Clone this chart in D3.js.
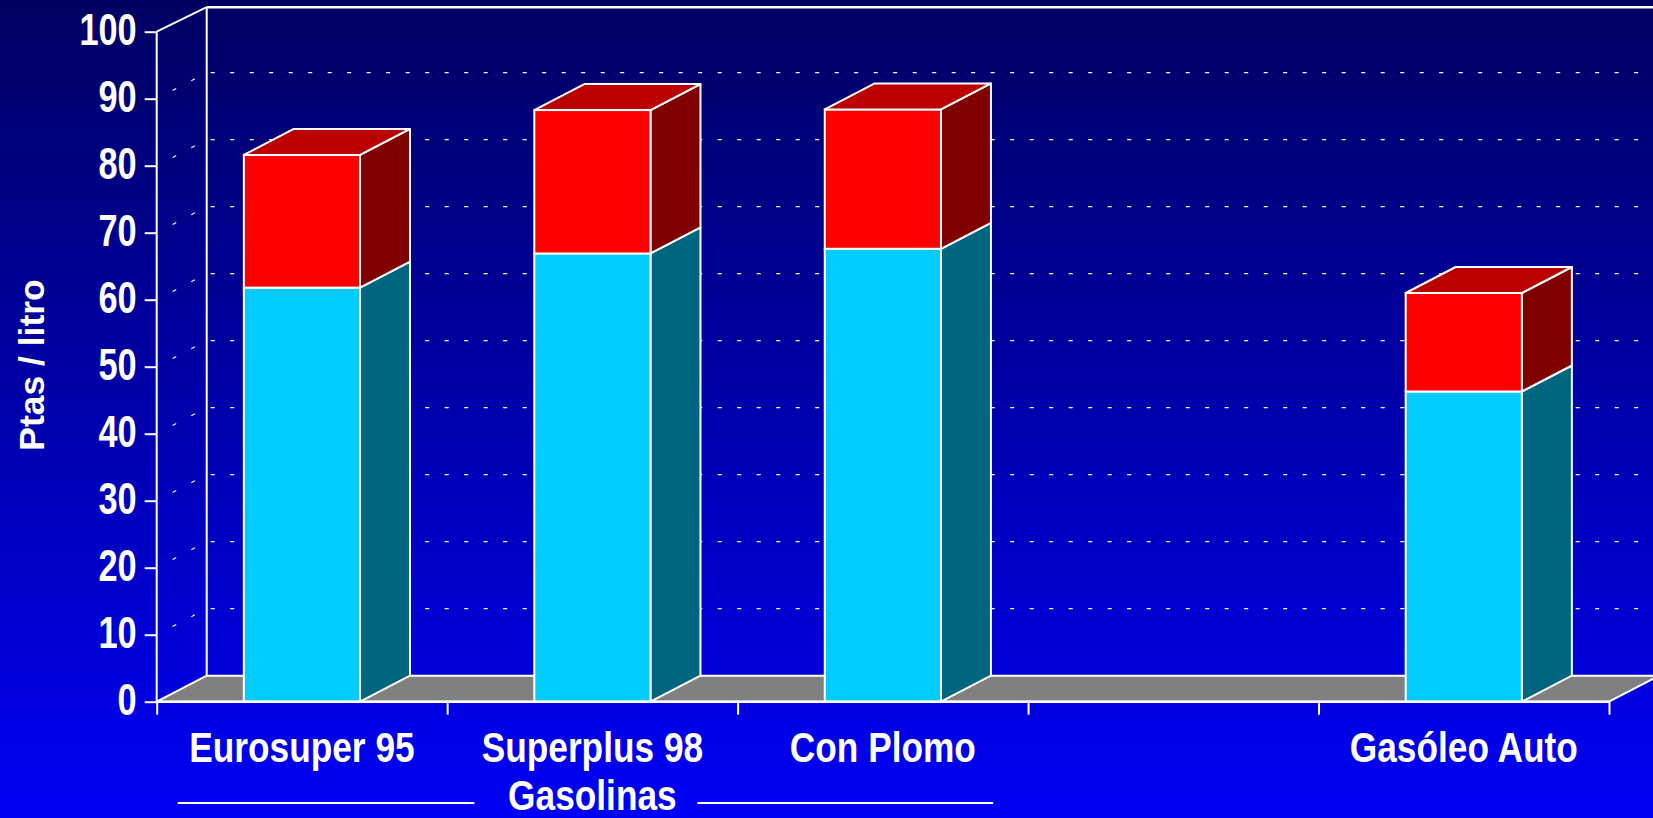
<!DOCTYPE html>
<html>
<head>
<meta charset="utf-8">
<script src="https://cdn.jsdelivr.net/npm/d3@7"></script>
<style>
  html, body { margin: 0; padding: 0; background: #0000cc; }
  svg { display: block; }
  text { font-family: "Liberation Sans", Arial, sans-serif; font-weight: bold; fill: #fff; }
</style>
</head>
<body>
<svg id="chart" width="1653" height="818"></svg>
<script>
// ---- data ----
const categories = ["Eurosuper 95", "Superplus 98", "Con Plomo", "", "Gasóleo Auto"];
const baseValues = [61.8, 66.9, 67.6, null, 46.3];   // lower (cyan) segment
const taxValues  = [19.8, 21.4, 20.8, null, 14.7];   // upper (red) segment
const yTickValues = [0, 10, 20, 30, 40, 50, 60, 70, 80, 90, 100];
const gridValues = [10, 20, 30, 40, 50, 60, 70, 80, 90];
const yAxisTitle = "Ptas / litro";
const groupLabel = "Gasolinas";

(function () {
// ---- layout ----
const W = 1653, H = 818;
const DX = 50, DY = 26;          // 3D depth offset
const plotLeft = 156.7, plotRight = 1609, plotTop = 31.7, plotBottom = 701.7;

const svg = d3.select("#chart");

// background gradient
const defs = svg.append("defs");
const grad = defs.append("linearGradient").attr("id", "bg").attr("x1", 0).attr("y1", 0).attr("x2", 0).attr("y2", 1);
grad.append("stop").attr("offset", "0%").attr("stop-color", "#000062");
grad.append("stop").attr("offset", "100%").attr("stop-color", "#0000f6");
svg.append("rect").attr("width", W).attr("height", H).attr("fill", "url(#bg)");

const y = d3.scaleLinear().domain([0, 100]).range([plotBottom, plotTop]);
const idx = categories.map((d, i) => i);
const x = d3.scaleBand().domain(idx).range([plotLeft, plotRight]).paddingInner(0.6).paddingOuter(0.3);
const xb = d3.scaleLinear().domain([0, categories.length]).range([plotLeft, plotRight]);

const white = "#ffffff";

// back wall frame
svg.append("line").attr("x1", plotLeft + DX).attr("x2", plotLeft + DX).attr("y1", y(100) - DY + 1.5).attr("y2", y(0) - DY)
  .attr("stroke", white).attr("stroke-width", 2);
svg.append("line").attr("x1", plotLeft + DX).attr("x2", W + 5).attr("y1", y(100) - DY + 1.5).attr("y2", y(100) - DY + 1.5)
  .attr("stroke", white).attr("stroke-width", 2.5);
svg.append("line").attr("x1", plotLeft).attr("y1", y(100)).attr("x2", plotLeft + DX).attr("y2", y(100) - DY + 1.5)
  .attr("stroke", white).attr("stroke-width", 2);

// gridlines: back wall and side wall
const grid = svg.append("g");
grid.selectAll(".gb").data(gridValues).join("line")
  .attr("x1", plotLeft + DX + 4).attr("x2", W + 5)
  .attr("y1", d => y(d) - DY).attr("y2", d => y(d) - DY)
  .attr("stroke", white).attr("stroke-width", 1.2).attr("stroke-dasharray", "4,15.5");
grid.selectAll(".gs").data(gridValues).join("line")
  .attr("x1", plotLeft).attr("y1", d => y(d))
  .attr("x2", plotLeft + DX).attr("y2", d => y(d) - DY)
  .attr("stroke", white).attr("stroke-width", 1.1).attr("stroke-dasharray", "0,18,4,17,4,30");

// floor
svg.append("path")
  .attr("d", `M${plotLeft},${y(0)} L${plotRight},${y(0)} L${plotRight + DX},${y(0) - DY} L${plotLeft + DX},${y(0) - DY} Z`)
  .attr("fill", "#808080").attr("stroke", white).attr("stroke-width", 2).attr("stroke-linejoin", "round");

// bars
const segColors = [
  { front: "#00ccff", side: "#006680", top: "#00a0cc" },
  { front: "#ff0000", side: "#800000", top: "#bb0000" }
];
const bars = svg.append("g");
idx.forEach(i => {
  if (baseValues[i] == null) return;
  const segs = [[0, baseValues[i]], [baseValues[i], baseValues[i] + taxValues[i]]];
  const x0 = x(i), x1 = x(i) + x.bandwidth();
  const g = bars.append("g");
  segs.forEach((s, k) => {
    const c = segColors[k];
    const yb = y(s[0]), yt = y(s[1]);
    g.append("path")
      .attr("d", `M${x1},${yb} L${x1 + DX},${yb - DY} L${x1 + DX},${yt - DY} L${x1},${yt} Z`)
      .attr("fill", c.side).attr("stroke", white).attr("stroke-width", 2).attr("stroke-linejoin", "round");
    g.append("rect").attr("x", x0).attr("y", yt).attr("width", x1 - x0).attr("height", yb - yt)
      .attr("fill", c.front).attr("stroke", white).attr("stroke-width", 2);
    if (k === segs.length - 1) {
      g.append("path")
        .attr("d", `M${x0},${yt} L${x1},${yt} L${x1 + DX},${yt - DY} L${x0 + DX},${yt - DY} Z`)
        .attr("fill", c.top).attr("stroke", white).attr("stroke-width", 2).attr("stroke-linejoin", "round");
    }
  });
});

// y axis
const yAxis = svg.append("g").attr("transform", `translate(${plotLeft},0)`)
  .call(d3.axisLeft(y).tickValues(yTickValues).tickSize(12).tickFormat(""));
yAxis.select(".domain").attr("stroke", white).attr("stroke-width", 2).attr("d", `M0,${y(100)}V${y(0)}`);
yAxis.selectAll(".tick line").attr("stroke", white).attr("stroke-width", 2);
svg.append("g").selectAll("text").data(yTickValues).join("text")
  .attr("transform", d => `translate(${plotLeft - 20},${y(d) + 13.5}) scale(0.78,1)`)
  .attr("text-anchor", "end").attr("font-size", 44).text(d => d);

// x axis (boundary ticks)
const xAxis = svg.append("g").attr("transform", `translate(0,${y(0)})`)
  .call(d3.axisBottom(xb).tickValues(d3.range(categories.length + 1)).tickSize(13).tickFormat(""));
xAxis.select(".domain").remove();
xAxis.selectAll(".tick line").attr("stroke", white).attr("stroke-width", 2);
svg.append("line").attr("x1", plotLeft).attr("x2", plotRight).attr("y1", y(0)).attr("y2", y(0))
  .attr("stroke", white).attr("stroke-width", 2.5);

// category labels
svg.append("g").selectAll("text").data(idx).join("text")
  .attr("transform", i => `translate(${x(i) + x.bandwidth() / 2},${y(0) + 60}) scale(0.84,1)`)
  .attr("text-anchor", "middle").attr("font-size", 42).text(i => categories[i]);

// group label "Gasolinas"
const gx0 = xb(0), gx1 = xb(3);
const gc = (gx0 + gx1) / 2;
svg.append("text").attr("transform", `translate(${gc},810) scale(0.84,1)`)
  .attr("text-anchor", "middle").attr("font-size", 42).text(groupLabel);
svg.append("line").attr("x1", gx0 + 21).attr("x2", gc - 118).attr("y1", 803).attr("y2", 803)
  .attr("stroke", white).attr("stroke-width", 2);
svg.append("line").attr("x1", gc + 105).attr("x2", gx1 - 35).attr("y1", 803).attr("y2", 803)
  .attr("stroke", white).attr("stroke-width", 2);

// y axis title
svg.append("text").attr("transform", `translate(44,365) scale(0.98,1) rotate(-90)`)
  .attr("text-anchor", "middle").attr("font-size", 35.5).text(yAxisTitle);
})();
</script>
</body>
</html>
